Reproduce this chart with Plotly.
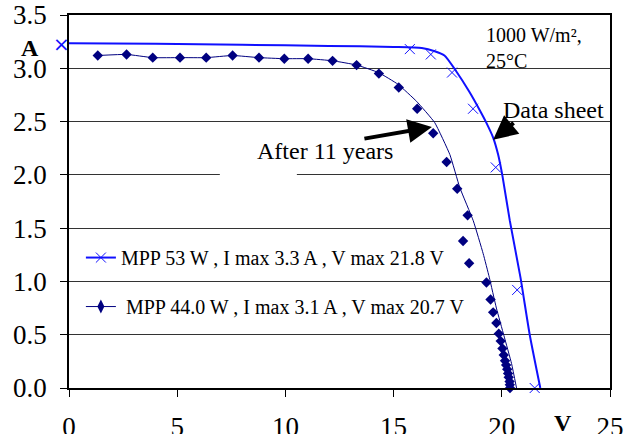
import plotly.graph_objects as go

# Data sheet curve (smooth line)
sheet_curve_v = [0, 4, 8, 12, 15, 16.3, 16.9, 17.35, 17.9, 18.5, 19.0, 19.26, 19.6, 19.83, 20.03, 20.37, 20.86, 21.29, 21.78]
sheet_curve_i = [3.235, 3.23, 3.22, 3.21, 3.20, 3.19, 3.16, 3.12, 2.97, 2.78, 2.60, 2.50, 2.35, 2.19, 1.99, 1.57, 1.04, 0.50, 0.0]

# Data sheet points (x markers)
sheet_pts_v = [-0.35, 15.75, 16.72, 17.7, 18.67, 19.72, 20.71, 21.52]
sheet_pts_i = [3.23, 3.18, 3.13, 2.96, 2.62, 2.07, 0.92, 0.0]

# After 11 years: fitted curve (thin navy line)
aged_curve_v = [1.33, 2.66, 3.87, 5.13, 6.34, 7.56, 8.78, 9.95, 11.05, 12.2, 13.3, 14.3, 15.2,
                16.06, 16.9, 17.6, 18.06, 18.68, 19.14, 19.42, 19.75, 20.1, 20.45, 20.68]
aged_curve_i = [3.12, 3.13, 3.10, 3.10, 3.10, 3.12, 3.10, 3.09, 3.09, 3.07, 3.03, 2.96, 2.85,
                2.69, 2.49, 2.19, 1.88, 1.57, 1.26, 1.04, 0.75, 0.49, 0.23, 0.0]

# After 11 years: measured points (diamonds)
aged_pts_v = [1.33, 2.66, 3.87, 5.13, 6.34, 7.56, 8.78, 9.95, 11.05, 12.18, 13.29, 14.32, 15.24,
              16.09, 16.83, 17.45, 17.94, 18.42, 18.21, 18.49, 19.29, 19.48, 19.6, 19.75, 19.86,
              19.95, 20.03, 20.09, 20.15, 20.2, 20.25, 20.29, 20.32, 20.36, 20.37, 20.38]
aged_pts_i = [3.12, 3.13, 3.10, 3.10, 3.10, 3.12, 3.10, 3.09, 3.09, 3.07, 3.03, 2.95, 2.82,
              2.62, 2.39, 2.12, 1.87, 1.62, 1.38, 1.17, 0.99, 0.83, 0.71, 0.61, 0.51,
              0.44, 0.37, 0.31, 0.255, 0.215, 0.175, 0.137, 0.10, 0.06, 0.03, 0.0]

legend_names = ["MPP 53 W , I max 3.3 A , V max 21.8 V",
                "\u00a0MPP 44.0 W , I max 3.1 A , V max 20.7 V"]

x_range = [0, 25]
y_range = [0, 3.5]
x_ticks = [0, 5, 10, 15, 20, 25]
y_ticks = [0, 0.5, 1.0, 1.5, 2.0, 2.5, 3.0, 3.5]

BLUE = "#1010ff"
NAVY = "#000080"
FONT = "Liberation Serif"

fig = go.Figure()

fig.add_trace(go.Scatter(x=sheet_curve_v, y=sheet_curve_i, mode="lines",
                         line=dict(color=BLUE, width=2, shape="spline", smoothing=0.6),
                         showlegend=False, hoverinfo="skip"))
fig.add_trace(go.Scatter(x=sheet_pts_v, y=sheet_pts_i, mode="markers", cliponaxis=False,
                         marker=dict(symbol="x-thin", size=10, line=dict(width=1, color=BLUE), color=BLUE),
                         showlegend=False))
fig.add_trace(go.Scatter(x=aged_curve_v, y=aged_curve_i, mode="lines",
                         line=dict(color=NAVY, width=1, shape="spline", smoothing=0.4),
                         showlegend=False, hoverinfo="skip"))
fig.add_trace(go.Scatter(x=aged_pts_v, y=aged_pts_i, mode="markers", cliponaxis=False,
                         marker=dict(symbol="diamond", size=8, color=NAVY),
                         showlegend=False))

# legend entries
fig.add_trace(go.Scatter(x=[None], y=[None], mode="lines+markers", name=legend_names[0],
                         legendgroup="a",
                         line=dict(color=BLUE, width=2),
                         marker=dict(symbol="x-thin", size=10, line=dict(width=1, color=BLUE), color=BLUE)))
fig.add_trace(go.Scatter(x=[None], y=[None], mode="lines+markers", name=legend_names[1],
                         legendgroup="b",
                         line=dict(color=NAVY, width=1),
                         marker=dict(symbol="diamond-tall", size=10, color=NAVY)))

# white patch over gridline (text box background in original)
fig.add_shape(type="rect", x0=6.97, x1=10.53, y0=1.97, y1=2.03, xref="x", yref="y",
              fillcolor="white", line=dict(width=0), layer="above")

annos = [
    # first data-sheet point lies just left of the axis; plotly hides out-of-range
    # markers, so draw it as a glyph placed in paper units derived from the data
    dict(xref="paper", yref="y",
         x=(sheet_pts_v[0] - x_range[0]) / (x_range[1] - x_range[0]), y=sheet_pts_i[0],
         text="×", showarrow=False,
         font=dict(size=20, color=BLUE, family="DejaVu Sans"), xanchor="center", yanchor="middle"),
    dict(x=19.94, y=2.61, text="Data sheet", xanchor="left", yanchor="middle",
         showarrow=False, font=dict(size=24, color="black", family=FONT)),
    dict(x=8.6, y=2.224, text="After 11 years", xanchor="left", yanchor="middle",
         showarrow=False, font=dict(size=24, color="black", family=FONT)),
    dict(x=19.6, y=2.33, ax=22, ay=-18, text="", showarrow=True, arrowhead=2,
         arrowsize=1.2, arrowwidth=4, arrowcolor="black"),
    dict(x=16.77, y=2.45, ax=-69, ay=12, text="", showarrow=True, arrowhead=2,
         arrowsize=1.2, arrowwidth=4, arrowcolor="black"),
    dict(x=19.2, y=3.43, text="1000 W/m²,<br>25°C", xanchor="left", yanchor="top", align="left",
         showarrow=False, font=dict(size=20, color="black", family=FONT)),
    dict(xref="paper", yref="paper", x=-0.072, y=0.9115, text="<b>A</b>", showarrow=False,
         xanchor="center", yanchor="middle",
         font=dict(size=24, color="black", family=FONT)),
    dict(xref="paper", yref="paper", x=0.913, y=-0.094, text="<b>V</b>", showarrow=False,
         xanchor="center", yanchor="middle",
         font=dict(size=24, color="black", family=FONT)),
]
for a in annos:
    fig.add_annotation(**a)

fig.update_layout(
    width=627, height=434,
    margin=dict(l=69, r=17, t=15, b=46, autoexpand=False),
    paper_bgcolor="white", plot_bgcolor="white",
    font=dict(family=FONT, color="black"),
    showlegend=True,
    legend=dict(x=0.022, y=0.402, xanchor="left", yanchor="top",
                bgcolor="rgba(0,0,0,0)", font=dict(size=20, family=FONT, color="black"),
                tracegroupgap=20, traceorder="grouped"),
    xaxis=dict(range=x_range, tickvals=x_ticks, ticktext=[str(v) for v in x_ticks],
               automargin=False,
               showgrid=False, zeroline=False, showline=True, linecolor="black", linewidth=1.5,
               mirror=True, ticks="outside", ticklen=7, tickcolor="black",
               tickfont=dict(size=27, family=FONT, color="black"), ticklabelstandoff=7),
    yaxis=dict(range=y_range, tickvals=y_ticks, tickformat=".1f",
               automargin=False,
               showgrid=True, gridcolor="#333333", gridwidth=1, zeroline=False,
               showline=True, linecolor="black", linewidth=1.5, mirror=True,
               ticks="outside", ticklen=7, tickcolor="black",
               tickfont=dict(size=27, family=FONT, color="black"), ticklabelstandoff=8),
)

fig.write_html("out.html", config={"displayModeBar": False},
               post_script="document.body.style.margin='0';")
